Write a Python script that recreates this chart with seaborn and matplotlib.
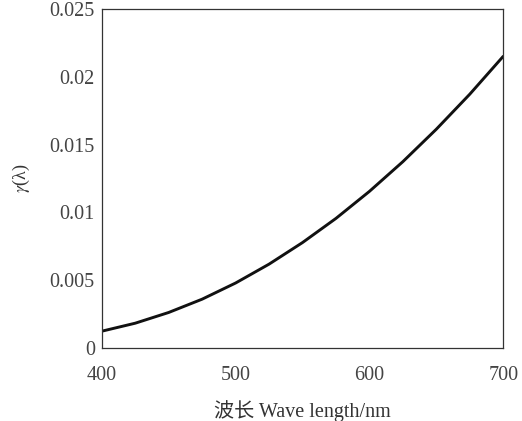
import matplotlib
matplotlib.use('Agg')
import matplotlib.pyplot as plt
import seaborn as sns
import pandas as pd

wavelength = [400, 425, 450, 475, 500, 525, 550, 575, 600, 625, 650, 675, 700]
gamma = [0.00125, 0.00184, 0.00263, 0.00361, 0.0048, 0.00619, 0.00778,
         0.00956, 0.01155, 0.01374, 0.01613, 0.01871, 0.0215]
xticks = [400, 500, 600, 700]
yticks = [0, 0.005, 0.01, 0.015, 0.02, 0.025]
ytick_labels = ['0', '0.005', '0.01', '0.015', '0.02', '0.025']

df = pd.DataFrame({'wl': wavelength, 'g': gamma})

sns.set_style('white')
plt.rcParams['font.family'] = ['Liberation Serif', 'Noto Sans CJK SC']
plt.rcParams['mathtext.fontset'] = 'stix'

fig = plt.figure(figsize=(5.22, 4.21), dpi=100)
ax = fig.add_axes([0.195, 0.173, 0.769, 0.806])
sns.lineplot(data=df, x='wl', y='g', ax=ax, color='#111111', linewidth=2.1)

ax.set_xlim(400, 700)
ax.set_ylim(0, 0.025)
ax.set_xticks(xticks)
ax.set_xticklabels([str(t) for t in xticks])
ax.set_yticks(yticks)
ax.set_yticklabels(ytick_labels)
ax.tick_params(direction='in', length=2, width=0.8, labelsize=14.5,
               colors='#444444', pad=5)
ax.tick_params(axis='x', pad=13)
for s in ax.spines.values():
    s.set_color('#333333')
    s.set_linewidth(0.9)

ax.set_xlabel('波长 Wave length/nm', fontsize=14.5, color='#333333', labelpad=11)
ax.set_ylabel(r'$\gamma$(λ)', fontsize=13, color='#333333', labelpad=13)

fig.savefig('out.png', dpi=100, facecolor='white')
